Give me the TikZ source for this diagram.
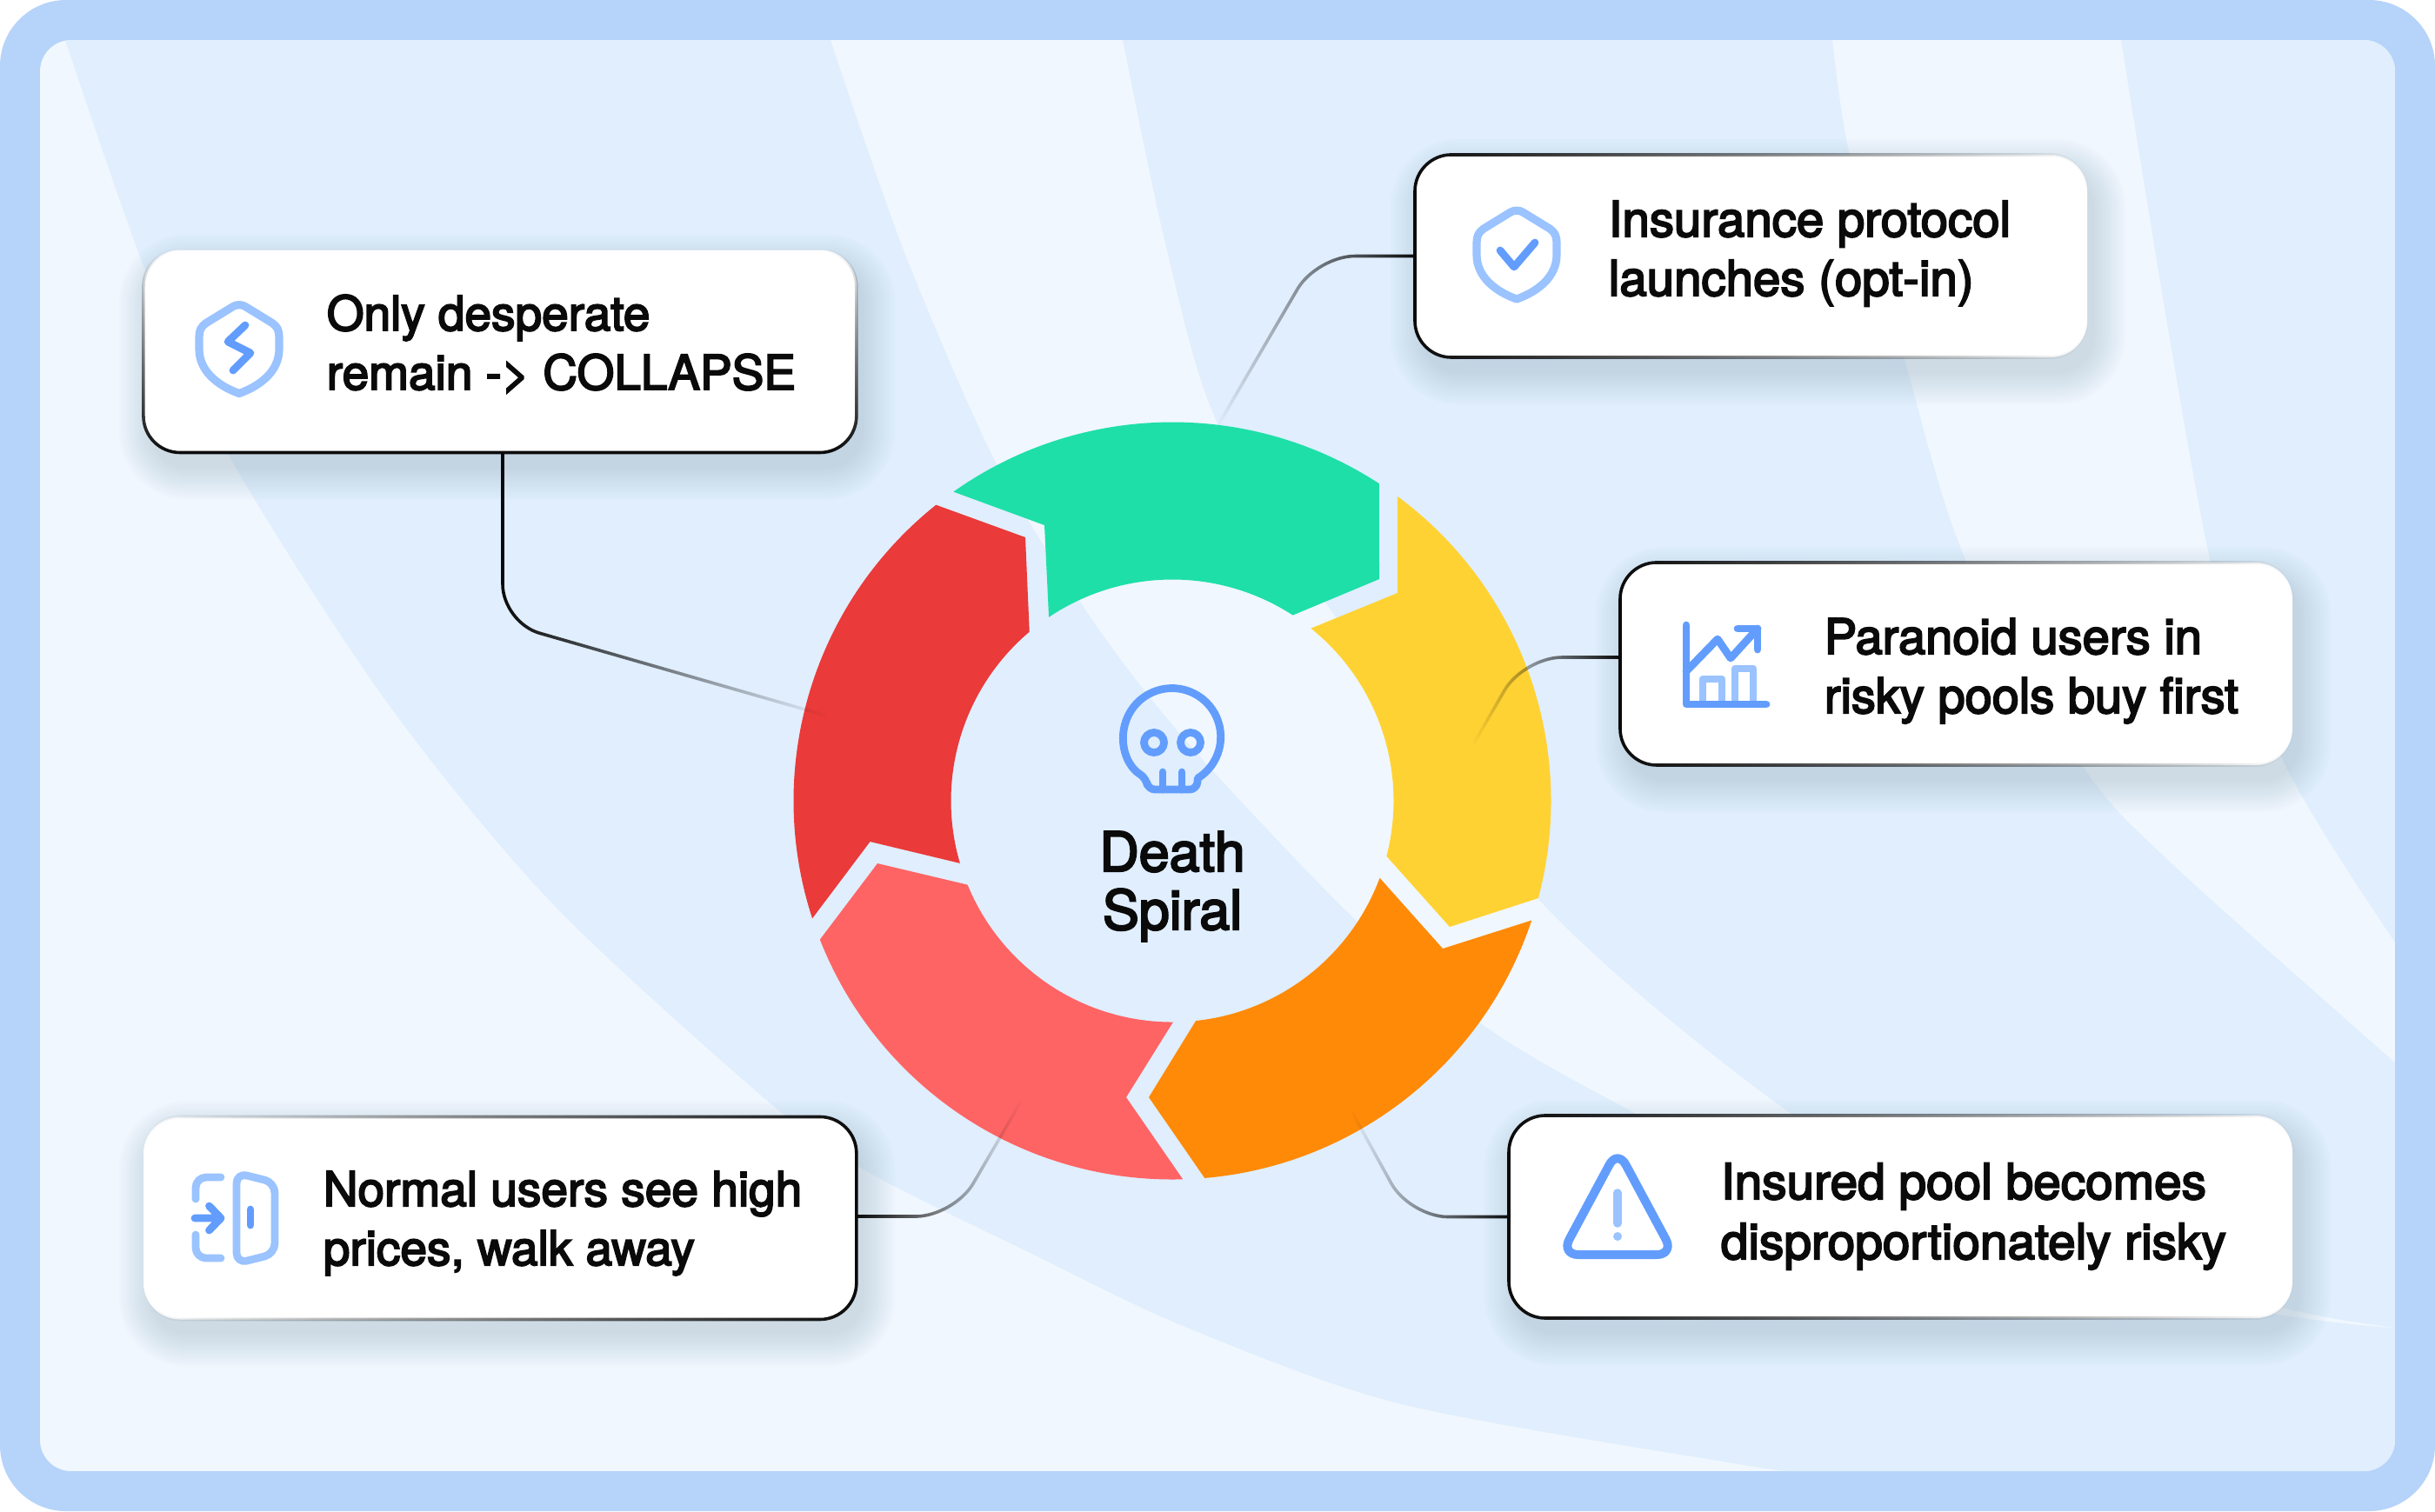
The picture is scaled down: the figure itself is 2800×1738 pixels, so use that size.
\documentclass[tikz,border=0pt]{standalone}
\usepackage{fontspec}
\setmainfont{TeX Gyre Heros}[FakeBold=3.5]
\usetikzlibrary{positioning,calc,fadings}
\definecolor{frameblue}{HTML}{B6D3FA}
\definecolor{bglight}{HTML}{F0F7FE}
\definecolor{bgdark}{HTML}{E0EEFD}
\definecolor{ink}{HTML}{0A0A0A}
\definecolor{shadowblue}{HTML}{5A7396}
\definecolor{iconA}{HTML}{629DFD}
\definecolor{iconB}{HTML}{9AC3FF}
\definecolor{segGreen}{HTML}{1EDFA8}
\definecolor{segYellow}{HTML}{FFD233}
\definecolor{segOrange}{HTML}{FF8A08}
\definecolor{segSalmon}{HTML}{FF6464}
\definecolor{segRed}{HTML}{EA3A3A}
\tikzfading[name=edgeW,left color=transparent!0,middle color=transparent!88,right color=transparent!100]
\tikzfading[name=edgeE,left color=transparent!100,middle color=transparent!88,right color=transparent!0]
\tikzfading[name=edgeS,top color=transparent!100,middle color=transparent!35,bottom color=transparent!0]
\tikzfading[name=fadeE,left color=transparent!0,middle color=transparent!15,right color=transparent!100]
\tikzfading[name=fadeW,left color=transparent!100,middle color=transparent!15,right color=transparent!0]

\begin{document}
\begin{tikzpicture}[x=0.25pt,y=-0.25pt,
    box/.style={fill=white, rounded corners=10.5pt, inner sep=0pt, minimum height=58.25pt},
    boxW/.style={box, postaction={draw=ink, line width=.9pt, path fading=edgeW}},
    boxE/.style={box, postaction={draw=ink, line width=.9pt, path fading=edgeE}},
    boxS/.style={box, postaction={draw=ink, line width=.9pt, path fading=edgeS}},
    txt/.style={anchor=base west, align=left, inner sep=0pt, text=ink,
                font=\fontsize{13.75}{17}\selectfont},
    conn/.style={draw=ink, line width=.9pt, rounded corners=11pt},
    iconline/.style={draw=iconA, line width=2.2pt, line cap=round, line join=round},
    iconsoft/.style={draw=iconB, line width=2.2pt, line cap=round, line join=round},
    shieldpic/.pic={
      \draw[iconsoft, line width=2.3pt] (-7,-49) -- (-38,-30) .. controls (-44,-26) and (-46,-21) .. (-46,-14)
        -- (-46,0) .. controls (-46,25) and (-25,42) .. (0,51)
        .. controls (25,42) and (46,25) .. (46,0) -- (46,-14)
        .. controls (46,-21) and (44,-26) .. (38,-30) -- (7,-49)
        .. controls (3,-51.5) and (-3,-51.5) .. (-7,-49) -- cycle;
    },
  ]
  \useasboundingbox (0,0) rectangle (2800,1738);

  % the frame and the panel with its bands
  \fill[white] (0,0) rectangle (2800,1738);
  \fill[frameblue, rounded corners=19pt] (0,0) rectangle (2800,1738);
  \begin{scope}
    \clip[rounded corners=9pt] (46,46) rectangle (2754,1692);
    \fill[bglight] (46,46) rectangle (2754,1692);
    \fill[bgdark] plot[smooth] coordinates {(75,46) (169,316) (265,527) (446,809) (638,1042) (893,1275)
        (998,1348) (1197,1447) (1363,1526) (1612,1615) (2000,1684) (2064,1692)} -- (2754,1692) -- (2754,46) -- cycle;
    \fill[bglight] plot[smooth] coordinates {(955,46) (1040,290) (1144,530) (1240,689) (1312,789) (1396,888)
        (1560,1059) (1707,1180) (1865,1272) (2200,1440) (2628,1513) (2754,1527)}
      -- plot[smooth] coordinates {(2754,1527) (2628,1505) (2300,1420) (2047,1272) (1767,1032) (1533,706)
        (1399,485) (1340,280) (1291,46)} -- cycle;
    \fill[bglight] plot[smooth] coordinates {(2107,46) (2127,179) (2190,413) (2260,643) (2395,881) (2495,991) (2754,1222)}
      -- (2754,1084) -- plot[smooth] coordinates {(2754,1084) (2628,881) (2541,643) (2439,46)} -- cycle;
  \end{scope}

  % the ring of five arrows
  \coordinate (ctr) at (1348,921);
  \fill[segGreen] ($(ctr)+(234.7:435.5)$) arc[start angle=234.7, end angle=303.1, radius=435.5]
    -- (1586,666) -- ($(ctr)+(303:254.5)$) arc[start angle=303, end angle=236.1, radius=254.5]
    -- (1201,604) -- cycle;
  \fill[segYellow] ($(ctr)+(306.5:435.5)$) arc[start angle=306.5, end angle=374.9, radius=435.5]
    -- (1667,1066) -- ($(ctr)+(374.5:254.5)$) arc[start angle=374.5, end angle=308.8, radius=254.5]
    -- (1607,682) -- cycle;
  \fill[segOrange] ($(ctr)+(18.4:435.5)$) arc[start angle=18.4, end angle=85.1, radius=435.5]
    -- (1321,1262) -- ($(ctr)+(83.9:254.5)$) arc[start angle=83.9, end angle=20.4, radius=254.5]
    -- (1659,1091) -- cycle;
  \fill[segSalmon] ($(ctr)+(88.4:435.5)$) arc[start angle=88.4, end angle=158.5, radius=435.5]
    -- (1009,993) -- ($(ctr)+(157.7:254.5)$) arc[start angle=157.7, end angle=89.8, radius=254.5]
    -- (1295,1262) -- cycle;
  \fill[segRed] ($(ctr)+(161.9:435.5)$) arc[start angle=161.9, end angle=231.4, radius=435.5]
    -- (1179,618) -- ($(ctr)+(229.8:254.5)$) arc[start angle=229.8, end angle=163.6, radius=254.5]
    -- (1000.5,968) -- cycle;

  % the soft shadows under the boxes
  \foreach \cx/\cy/\hw in {575/404/410, 2013.5/294.5/386.5, 2249.5/763.5/386.5, 2185.5/1399.5/450.5, 575/1401/410}
    \foreach \g in {0,3,...,36}
      \fill[shadowblue, opacity=.014, rounded corners={10.5pt+\g*.25pt}]
        (\cx-\hw-\g+8,\cy-116.5-\g+18) rectangle (\cx+\hw+\g+8,\cy+116.5+\g+18);

  % the five boxes
  \node[boxS, minimum width=205pt] (only) at (575,404) {};
  \node[boxW, minimum width=193.25pt] (insurance) at (2013.5,294.5) {};
  \node[boxW, minimum width=193.25pt] (paranoid) at (2249.5,763.5) {};
  \node[boxW, minimum width=225.25pt] (insured) at (2185.5,1399.5) {};
  \node[boxE, minimum width=205pt] (normal) at (575,1401) {};

  % the leaders, fading out on the ring
  \coordinate (onlyEnd) at (950,823);
  \coordinate (insuranceEnd) at (1400,490);
  \coordinate (paranoidEnd) at (1694,856);
  \coordinate (insuredEnd) at (1554,1278);
  \coordinate (normalEnd) at (1174,1267);
  \draw[conn, path fading=fadeE] (578,0 |- only.south) -- (578,716) -- (onlyEnd);
  \draw[conn, path fading=fadeW] (insurance.west) -- (1514,294.5) -- (insuranceEnd);
  \draw[conn, path fading=fadeW] (paranoid.west |- 0,756) -- (1752,756) -- (paranoidEnd);
  \draw[conn, path fading=fadeW] (insured.west) -- (1621,1399.5) -- (insuredEnd);
  \draw[conn, path fading=fadeE] (normal.east |- 0,1399) -- (1097,1399) -- (normalEnd);

  % the texts
  \node[txt] (onlyT) at (375,448) {Only desperate\\remain -> COLLAPSE};
  \node[txt, font=\fontsize{14.1}{17}\selectfont] (insuranceT) at (1849,340) {Insurance protocol\\launches (opt-in)};
  \node[txt, font=\fontsize{14}{17}\selectfont] (paranoidT) at (2097,820) {Paranoid users in\\risky pools buy first};
  \node[txt, font=\fontsize{14.2}{17.25}\selectfont] (insuredT) at (1978,1448) {Insured pool becomes\\disproportionately risky};
  \node[txt] (normalT) at (371,1455) {Normal users see high\\prices, walk away};
  \node[txt, anchor=base, align=center, font=\fontsize{15.7}{16.75}\selectfont] (title) at (1348,1069) {Death\\Spiral};

  % the skull
  \draw[iconline] (1318,895) arc[start angle=122, end angle=418, radius=56]
    [rounded corners=2pt] -- (1376,908) -- (1320,908) -- cycle;
  \draw[iconline] (1337,888) -- (1337,908) (1359,888) -- (1359,908);
  \draw[iconline] (1327,854) circle[radius=11.5] (1369,854) circle[radius=11.5];

  % the shields
  \pic at (275,401.5) {shieldpic};
  \draw[iconline] (282,374) -- (262,393) -- (288,406) -- (268,426);
  \pic at (1744,293) {shieldpic};
  \draw[iconline] (1725,288) -- (1741,307) -- (1765,279);

  % the chart
  \draw[iconsoft] (1958,806) -- (1958,781) -- (1980,781) -- (1980,806);
  \draw[iconsoft] (1995,806) -- (1995,769) -- (2016,769) -- (2016,806);
  \draw[iconline] (1939,719) -- (1939,810) -- (2031,810);
  \draw[iconline] (1939,772) -- (1975,735) -- (1990,757) -- (2021,723);
  \draw[iconline] (1998,723) -- (2021,723) -- (2021,747);

  % the warning sign
  \draw[iconline, line width=2.5pt, rounded corners=5pt] (1860,1322) -- (1925,1443) -- (1795,1443) -- cycle;
  \draw[iconsoft, line width=2.4pt] (1860,1372) -- (1860,1407);
  \fill[iconB] (1860,1422) circle[radius=5];

  % the door
  \draw[iconsoft, rounded corners=3pt] (272,1349) -- (316,1360) -- (316,1442) -- (272,1453) -- cycle;
  \draw[iconline] (288,1391) -- (288,1409);
  \draw[iconsoft, rounded corners=3pt] (254,1354) -- (225,1354) -- (225,1379);
  \draw[iconsoft, rounded corners=3pt] (225,1420) -- (225,1447) -- (254,1447);
  \draw[iconline] (224,1401) -- (254,1401) (240.5,1387) -- (254,1401) -- (240.5,1415);
\end{tikzpicture}
\end{document}
